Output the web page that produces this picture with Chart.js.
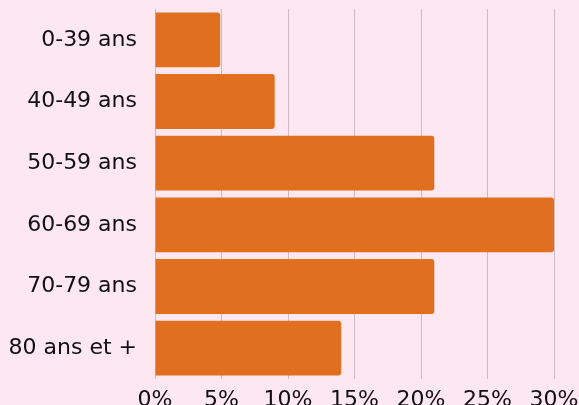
<!DOCTYPE html>
<html>
<head>
<meta charset="utf-8">
<script src="https://cdn.jsdelivr.net/npm/chart.js@4/dist/chart.umd.min.js"></script>
<style>
  html, body { margin: 0; padding: 0; background: #fde7f0; }
  #wrap { width: 579px; height: 405px; }
</style>
</head>
<body>
<div id="wrap"><canvas id="ageChart"></canvas></div>
<script>
  const categories = ['0-39 ans', '40-49 ans', '50-59 ans', '60-69 ans', '70-79 ans', '80 ans et +'];
  const shares = [4.9, 9, 21, 30, 21, 14];
  const tickValues = [0, 5, 10, 15, 20, 25, 30];

  const fontFamily = "'DejaVu Sans', sans-serif";

  new Chart(document.getElementById('ageChart'), {
    type: 'bar',
    data: {
      labels: categories,
      datasets: [{
        data: shares,
        backgroundColor: '#e07020',
        borderRadius: { topRight: 3, bottomRight: 3 },
        borderSkipped: 'start',
        barPercentage: 0.89,
        categoryPercentage: 1
      }]
    },
    options: {
      indexAxis: 'y',
      responsive: true,
      maintainAspectRatio: false,
      animation: false,
      layout: { padding: { top: 9, right: 25, bottom: 0, left: 0 } },
      plugins: { legend: { display: false }, tooltip: { enabled: false } },
      scales: {
        x: {
          min: 0,
          max: 30,
          afterBuildTicks: (scale) => { scale.ticks = tickValues.map(v => ({ value: v })); },
          afterFit: (scale) => {
            scale.height = 26;
            scale.paddingLeft = 0;
            scale.paddingRight = 0;
          },
          grid: { color: '#cdbac4', drawTicks: false },
          border: { display: false },
          ticks: {
            padding: 8,
            color: '#111',
            font: { family: fontFamily, size: 22 },
            callback: (v) => v + '%'
          }
        },
        y: {
          afterFit: (scale) => {
            scale.width = 155;
            scale.paddingTop = 0;
            scale.paddingBottom = 0;
          },
          grid: { display: false, drawTicks: false },
          border: { display: false },
          ticks: {
            padding: 18,
            color: '#111',
            font: { family: fontFamily, size: 22 }
          }
        }
      }
    }
  });
</script>
</body>
</html>
